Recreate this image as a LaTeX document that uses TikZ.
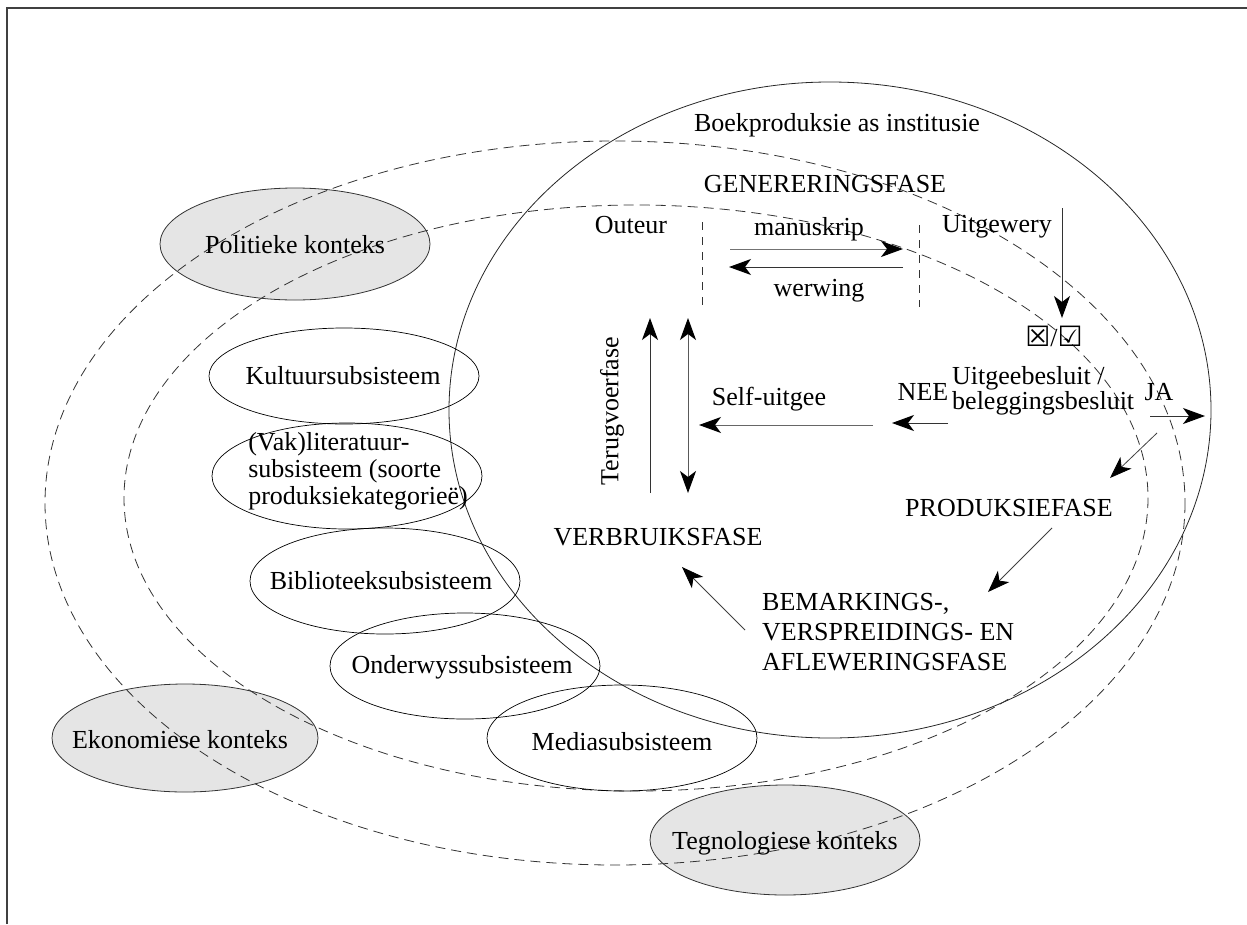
\documentclass[tikz,border=0pt]{standalone}
\usepackage{fontspec}
\setmainfont{Liberation Serif}
\newfontfamily\symf{DejaVu Sans}
\usetikzlibrary{arrows.meta,shapes.geometric}
\tikzset{
  txt/.style={font=\fontsize{26}{30}\selectfont, inner sep=0pt, text=black},
  ctx/.style={draw=black!80, fill=black!10, line width=0.8pt},
  sub/.style={draw=black, line width=0.7pt},
  big/.style={draw=black!85, line width=0.8pt},
  dsh/.style={draw=black!80, line width=0.8pt, dash pattern=on 10pt off 6pt},
  vdsh/.style={draw=black!80, line width=0.8pt, dash pattern=on 8pt off 7pt},
  arr/.style={draw=black!80, line width=0.9pt, -{Stealth[length=22pt,width=16pt,inset=6pt,black]}},
  darr/.style={draw=black!65, line width=0.9pt, {Stealth[length=22pt,width=16pt,inset=6pt,black]}-{Stealth[length=22pt,width=16pt,inset=6pt,black]}},
  thin/.style={draw=black!75, line width=0.8pt, -{Stealth[length=22pt,width=16pt,inset=6pt,black]}}
}
\begin{document}
\begin{tikzpicture}[x=1pt,y=-1pt]
\useasboundingbox (0,0) rectangle (1247,924);
% frame
\draw[line width=1.5pt, black!75] (7,924) -- (7,8) -- (1247,8);

% context ellipses (filled)
\draw[ctx] (295,244) ellipse [x radius=135, y radius=56];
\draw[ctx] (185,738) ellipse [x radius=133, y radius=54];
\draw[ctx] (785,840) ellipse [x radius=135, y radius=55];

% large ellipses
\draw[big] (830,410) ellipse [x radius=381, y radius=328];
\draw[dsh] (615,503) ellipse [x radius=570, y radius=362];
\draw[dsh] (636,498) ellipse [x radius=512, y radius=293];

% subsystem ellipses
\draw[sub] (344,376) ellipse [x radius=135, y radius=48];
\draw[sub] (347,476) ellipse [x radius=135, y radius=53];
\draw[sub] (385,581) ellipse [x radius=135, y radius=53];
\draw[sub] (465,666) ellipse [x radius=135, y radius=53];
\draw[sub] (622,738) ellipse [x radius=135, y radius=53];

% context labels
\node[txt] (pol) at (295,245) {Politieke konteks};
\node[txt] (eko) at (180,740) {Ekonomiese konteks};
\node[txt] (teg) at (785,843) {Tegnologiese konteks};

% subsystem labels
\node[txt] (kult) at (343,376) {Kultuursubsisteem};
\node[txt, align=left, font=\fontsize{26}{27}\selectfont] (vak) at (358,471) {(Vak)literatuur-\\subsisteem (soorte\\produksiekategorieë)};
\node[txt] (bib) at (381,581) {Biblioteeksubsisteem};
\node[txt] (ond) at (462,667) {Onderwyssubsisteem};
\node[txt] (med) at (622,742) {Mediasubsisteem};

% phase labels
\node[txt] (boek) at (837,125) {Boekproduksie as institusie};
\node[txt] (gen) at (825,184) {GENERERINGSFASE};
\node[txt] (out) at (631,225) {Outeur};
\node[txt] (uit) at (997,227) {Uitgewery};
\node[txt] (man) at (809,229) {manuskrip};
\node[txt] (wer) at (819,291) {werwing};
\node[txt] (chk) at (1054,336) {{\symf\fontsize{28}{30}\selectfont ☒}/{\symf\fontsize{28}{30}\selectfont ☑}};
\node[txt, align=left, font=\fontsize{26}{25}\selectfont, anchor=west] (bes) at (952,391) {Uitgeebesluit /\\beleggingsbesluit};
\node[txt] (nee) at (923,392) {NEE};
\node[txt] (ja) at (1159,392) {JA};
\node[txt] (self) at (769,399) {Self-uitgee};
\node[txt] (prod) at (1009,508) {PRODUKSIEFASE};
\node[txt, align=left, anchor=west] (bem) at (762,632) {BEMARKINGS-,\\VERSPREIDINGS- EN\\AFLEWERINGSFASE};
\node[txt] (verb) at (658,537) {VERBRUIKSFASE};
\node[txt, rotate=90] (terug) at (612,411) {Terugvoerfase};

% connector coordinates
\coordinate (m1) at (730,249); \coordinate (m2) at (903,249);
\coordinate (w1) at (903,267); \coordinate (w2) at (729,267);
\coordinate (u1) at (1062,208); \coordinate (u2) at (1062,318);
\coordinate (n1) at (948,423); \coordinate (n2) at (892,423);
\coordinate (s1) at (873,425); \coordinate (s2) at (699,425);
\coordinate (j1) at (1150,416); \coordinate (j2) at (1205,416);
\coordinate (k1) at (1157,433); \coordinate (k2) at (1110,478);
\coordinate (p1) at (1052,528); \coordinate (p2) at (988,592);
\coordinate (b1) at (745,630); \coordinate (b2) at (682,567);
\coordinate (t1) at (650,493); \coordinate (t2) at (650,318);
\coordinate (d1) at (688,318); \coordinate (d2) at (688,493);
\coordinate (v1) at (702,222); \coordinate (v2) at (702,307);
\coordinate (v3) at (919,225); \coordinate (v4) at (919,307);

% dashed separators
\draw[vdsh] (v1) -- (v2);
\draw[vdsh] (v3) -- (v4);

% arrows
\draw[arr, draw=black!55] (m1) -- (m2);
\draw[arr] (w1) -- (w2);
\draw[arr] (u1) -- (u2);
\draw[arr] (n1) -- (n2);
\draw[arr, draw=black!60] (s1) -- (s2);
\draw[arr] (j1) -- (j2);
\draw[thin] (k1) -- (k2);
\draw[thin] (p1) -- (p2);
\draw[thin] (b1) -- (b2);
\draw[arr] (t1) -- (t2);
\draw[darr] (d1) -- (d2);
\end{tikzpicture}
\end{document}
